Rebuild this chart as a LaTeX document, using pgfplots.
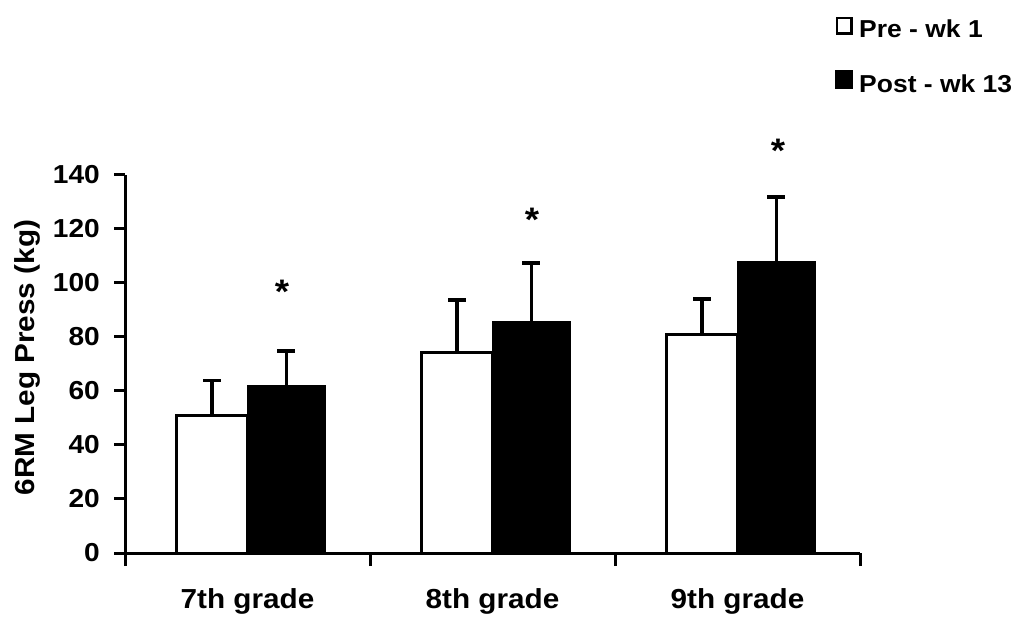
\documentclass[border=0pt]{standalone}
\usepackage{fontspec}
\setmainfont{Liberation Sans}[FakeStretch=1.08]
\usepackage{pgfplots}
\pgfplotsset{compat=1.18}
\newcommand{\tickfont}{\fontsize{26}{31}\selectfont\bfseries}
\newcommand{\catfont}{\fontsize{27.5}{33}\selectfont\bfseries}
\newcommand{\legfont}{\fontsize{24.5}{29}\selectfont\bfseries}
\begin{document}
\begin{tikzpicture}
\path[use as bounding box] (0pt,0pt) rectangle (1011pt,618pt);
\begin{axis}[
  at={(125pt,65pt)}, anchor=south west,
  scale only axis, width=735pt, height=378pt,
  xmin=-0.5, xmax=2.5, ymin=0, ymax=140,
  clip=false,
  axis x line=bottom, axis y line=left,
  axis line style={-, line width=3pt, black},
  tick align=outside,
  ytick={0,20,...,140},
  xtick={0,1,2},
  xticklabels={7th grade,8th grade,9th grade},
  minor xtick={-0.5,0.5,1.5,2.5},
  major x tick style={draw=none},
  every tick/.style={line width=3pt, black},
  major tick length=11pt, minor tick length=13pt,
  /pgf/number format/assume math mode=true,
  ticklabel style={inner sep=0pt},
  yticklabel style={xshift=-14pt, font=\tickfont},
  xticklabel style={yshift=-24pt, font=\catfont},
  ylabel={6RM Leg Press (kg)},
  every axis y label/.style={at={(axis description cs:-0.1333,0.517)}, rotate=90, anchor=center, font=\catfont},
  legend style={at={(axis description cs:0.966,1.419)}, anchor=north west,
    draw=none, fill=none, inner sep=0pt, row sep=31pt, font=\legfont,
    nodes={inner sep=0pt}, column sep=6pt},
  legend cell align=left,
]
% pre-training (week 1)
\addplot[ybar, bar width=71pt, bar shift=0pt, draw=black, line width=3pt, fill=white,
  legend image code/.code={\draw[black, line width=2.5pt, fill=white] (1.25pt,-3.75pt) rectangle (15.75pt,11.75pt);},
  error bars/.cd, y dir=plus, y explicit,
  error bar style={line width=3.5pt, black},
  error mark options={rotate=90, line width=3.5pt, black, mark size=9pt}]
  coordinates {(-0.1449,51.1) +- (0,12.7) (0.8551,74.4) +- (0,19.3) (1.8551,81.1) +- (0,13.0)};
\addlegendentry{Pre - wk 1}
% post-training (week 13)
\addplot[ybar, bar width=78pt, bar shift=0pt, draw=black, line width=1pt, fill=black,
  legend image code/.code={\fill[black] (0pt,-5pt) rectangle (17pt,13pt);},
  error bars/.cd, y dir=plus, y explicit,
  error bar style={line width=3.5pt, black},
  error mark options={rotate=90, line width=3.5pt, black, mark size=9pt}]
  coordinates {(0.159,61.9) +- (0,12.9) (1.159,85.6) +- (0,21.8) (2.159,108.1) +- (0,23.8)};
\addlegendentry{Post - wk 13}
% significance markers
\addplot[draw=none, mark=none, forget plot,
  nodes near coords, point meta=explicit symbolic,
  nodes near coords style={anchor=center, font=\fontsize{34}{40}\selectfont\bfseries, yshift=-6.5pt}]
  coordinates {(0.141,99.3) [*] (1.161,125.9) [*] (2.165,151.5) [*]};
\end{axis}
\end{tikzpicture}
\end{document}
